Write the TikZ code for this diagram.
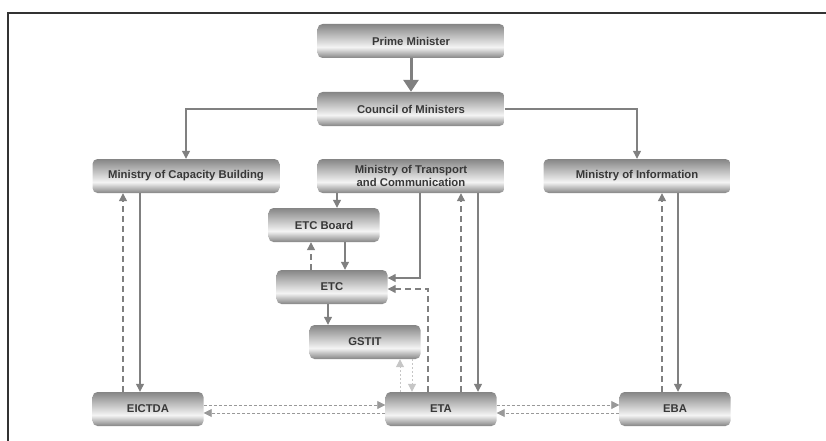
\documentclass[tikz,border=0pt]{standalone}
\usepackage{fontspec}
\setmainfont{Liberation Sans}
\usetikzlibrary{arrows.meta}

\definecolor{boxdark}{HTML}{858585}
\definecolor{boxlight}{HTML}{F4F4F4}
\definecolor{linegray}{HTML}{808080}
\definecolor{textgray}{HTML}{383838}
\pgfdeclareverticalshading{tube}{100bp}{color(0bp)=(boxdark); color(25bp)=(boxdark); color(41bp)=(boxlight); color(75bp)=(boxdark); color(100bp)=(boxdark)}

\tikzset{
  box/.style={shading=tube, rounded corners=5pt, text=textgray, align=center,
    font=\fontsize{11.3}{12.5}\selectfont\bfseries, minimum height=34pt, inner sep=0pt},
  wide/.style={box, minimum width=187pt},
  narrow/.style={box, minimum width=111pt},
  tip/.style={-{Triangle[length=8pt,width=8pt]}},
  link/.style={draw=linegray, line width=1.2pt, tip},
  back/.style={draw=linegray, line width=1.2pt, dash pattern=on 6pt off 4pt, tip},
  side/.style={draw=linegray!80, line width=0.8pt, dash pattern=on 3pt off 2pt, tip},
  faint/.style={draw=linegray!45, line width=1pt, dash pattern=on 2pt off 2pt, tip}
}

\begin{document}
\begin{tikzpicture}[x=1pt,y=-1pt]
  \useasboundingbox (0,0) rectangle (826,441);
  % frame
  \draw[line width=1.4pt, black!80] (8,441) -- (8,13) -- (826,13);

  % boxes
  \node[wide] (pm) at (411,41) {Prime Minister};
  \node[wide] (com) at (411,109) {Council of Ministers};
  \node[wide] (mcb) at (186,176) {Ministry of Capacity Building};
  \node[wide] (mtc) at (411,176) {Ministry of Transport\\and Communication};
  \node[wide] (moi) at (637,176) {Ministry of Information};
  \node[narrow] (etcb) at (324,225) {ETC Board};
  \node[narrow] (etc) at (332,287) {ETC};
  \node[narrow] (gstit) at (365,342) {GSTIT};
  \node[narrow] (eictda) at (148,409) {EICTDA};
  \node[narrow] (eta) at (441,409) {ETA};
  \node[narrow] (eba) at (675,409) {EBA};

  % top of the tree
  \draw[draw=linegray, line width=3pt, -{Triangle[length=12pt,width=15pt]}] (pm) -- (com);
  \draw[link] (com.west) -| (mcb.north);
  \draw[link] (com.east) -| (moi.north);

  % ministries and agencies
  \draw[link] (140,0 |- mcb.south) -- (140,0 |- eictda.north);
  \draw[back] (123,0 |- eictda.north) -- (123,0 |- mcb.south);
  \draw[link] (678,0 |- moi.south) -- (678,0 |- eba.north);
  \draw[back] (662,0 |- eba.north) -- (662,0 |- moi.south);
  \draw[link] (478,0 |- mtc.south) -- (478,0 |- eta.north);
  \draw[back] (461,0 |- eta.north) -- (461,0 |- mtc.south);

  % ETC branch
  \draw[link] (337,0 |- mtc.south) -- (337,0 |- etcb.north);
  \draw[link] (345,0 |- etcb.south) -- (345,0 |- etc.north);
  \draw[back] (311,0 |- etc.north) -- (311,0 |- etcb.south);
  \draw[link] (420,0 |- mtc.south) |- (etc.east |- 0,278);
  \draw[back] (428,0 |- eta.north) |- (etc.east |- 0,289);
  \draw[link] (328,0 |- etc.south) -- (328,0 |- gstit.north);
  \draw[faint] (412,0 |- gstit.south) -- (412,0 |- eta.north);
  \draw[faint] (400,0 |- eta.north) -- (400,0 |- gstit.south);

  % bottom row
  \draw[side] (eictda.east |- 0,405) -- (eta.west |- 0,405);
  \draw[side] (eta.west |- 0,413) -- (eictda.east |- 0,413);
  \draw[side] (eta.east |- 0,405) -- (eba.west |- 0,405);
  \draw[side] (eba.west |- 0,413) -- (eta.east |- 0,413);
\end{tikzpicture}
\end{document}
